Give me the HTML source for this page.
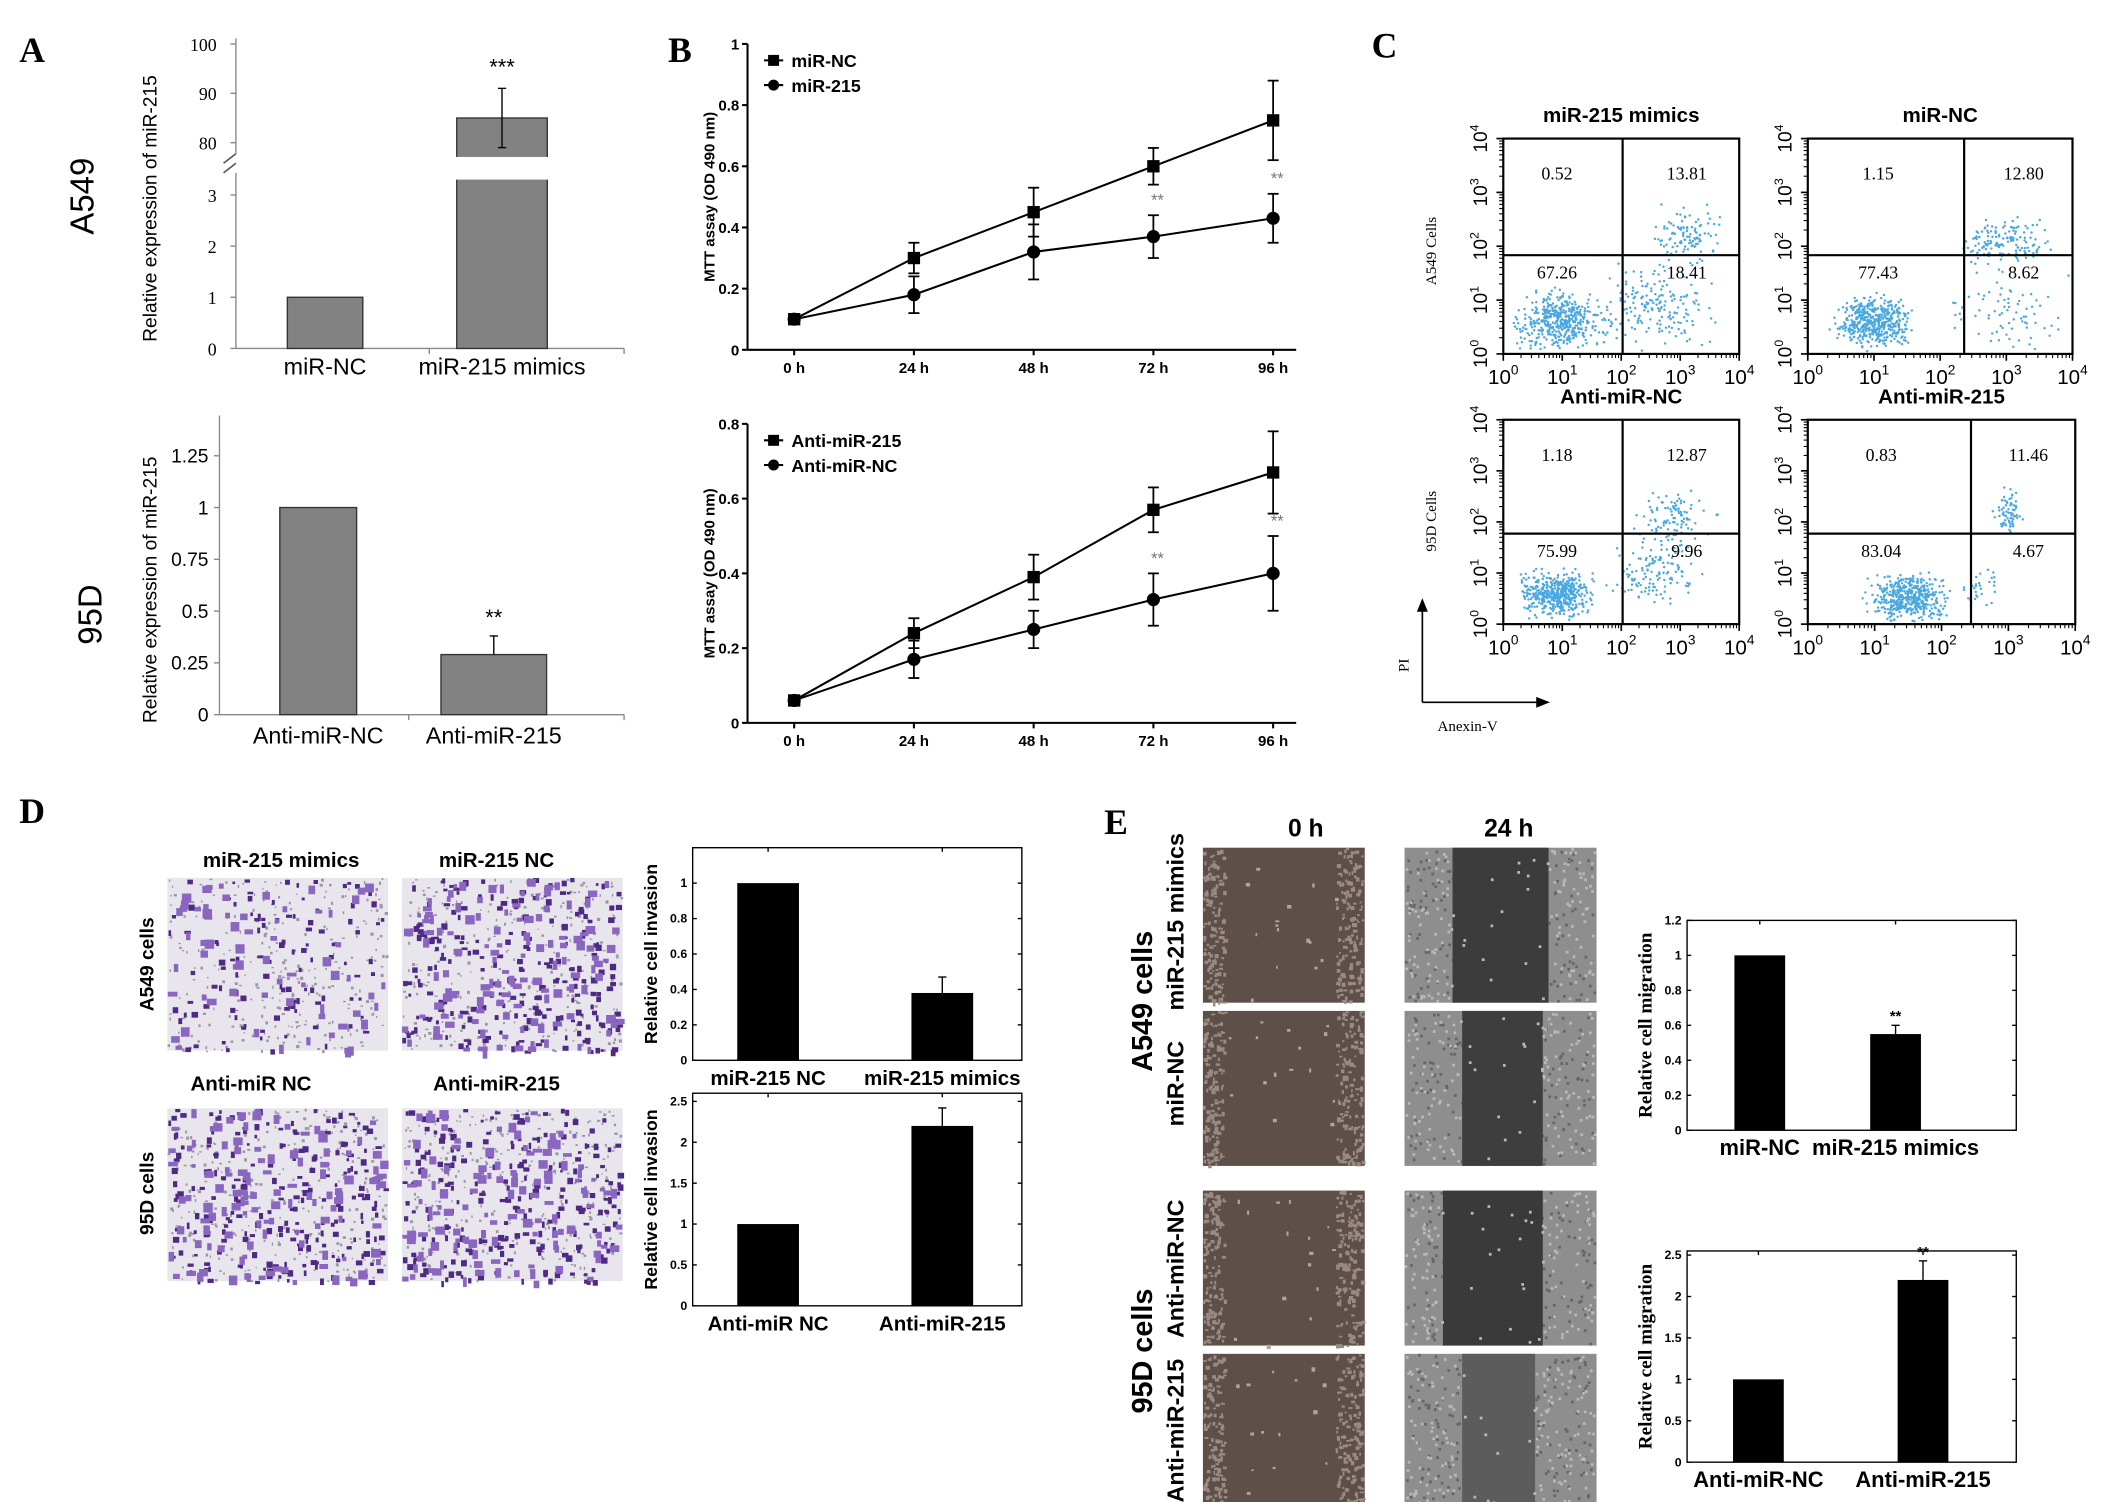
<!DOCTYPE html>
<html><head><meta charset="utf-8"><style>
html,body{margin:0;padding:0;background:#fff}
svg{display:block}
text{font-family:"Liberation Sans",sans-serif}
.serif{font-family:"Liberation Serif",serif}
</style></head><body>
<svg id="fig" width="2126" height="1502" viewBox="0 0 1550 1095" xmlns="http://www.w3.org/2000/svg">
<rect width="1550" height="1095" fill="#fff"/>
<text x="14" y="45" class="serif" font-size="26" font-weight="bold">A</text>
<text x="487" y="45" class="serif" font-size="26" font-weight="bold">B</text>
<text x="1000" y="42" class="serif" font-size="26" font-weight="bold">C</text>
<text x="14" y="600" class="serif" font-size="26" font-weight="bold">D</text>
<text x="805" y="608" class="serif" font-size="26" font-weight="bold">E</text>
<g id="root"></g>
</svg>
<script>
// ---------- Panel A data ----------
const aTopCats = ["miR-NC", "miR-215 mimics"];
const aTopVals = [1, 85];
const aTopErr = [0, 6];
const aTopTicks = ["0","1","2","3","80","90","100"];
const aBotCats = ["Anti-miR-NC", "Anti-miR-215"];
const aBotVals = [1, 0.29];
const aBotErr = [0, 0.09];
const aBotTicks = [0,0.25,0.5,0.75,1,1.25];
// ---------- Panel B data ----------
const bTimes = ["0 h","24 h","48 h","72 h","96 h"];
const bTopNC = [0.10,0.30,0.45,0.60,0.75];
const bTopNCErr = [0,0.05,0.08,0.06,0.13];
const bTop215 = [0.10,0.18,0.32,0.37,0.43];
const bTop215Err = [0,0.06,0.09,0.07,0.08];
const bTopTicks = [0,0.2,0.4,0.6,0.8,1];
const bBotAnti215 = [0.06,0.24,0.39,0.57,0.67];
const bBotAnti215Err = [0,0.04,0.06,0.06,0.11];
const bBotAntiNC = [0.06,0.17,0.25,0.33,0.40];
const bBotAntiNCErr = [0,0.05,0.05,0.07,0.10];
const bBotTicks = [0,0.2,0.4,0.6,0.8];
// ---------- Panel C data ----------
const cTitles = ["miR-215 mimics","miR-NC","Anti-miR-NC","Anti-miR-215"];
const cPercents = [["0.52","13.81","67.26","18.41"],["1.15","12.80","77.43","8.62"],["1.18","12.87","75.99","9.96"],["0.83","11.46","83.04","4.67"]];
// clusters: [log10 annexin, log10 PI, spread x, spread y, count]
const cClusters = [
 [[1.0,0.6,0.5,0.35,450],[2.6,0.9,0.6,0.5,180],[3.1,2.2,0.35,0.35,110]],
 [[1.0,0.6,0.35,0.3,480],[3.0,0.7,0.5,0.5,80],[3.0,2.1,0.45,0.3,150]],
 [[0.9,0.6,0.4,0.3,460],[2.6,1.0,0.5,0.4,130],[2.9,2.1,0.4,0.35,100]],
 [[1.5,0.5,0.35,0.3,480],[2.6,0.8,0.2,0.35,30],[3.0,2.2,0.15,0.3,70]]
];
// ---------- Panel D data ----------
const dTopCats = ["miR-215 NC","miR-215 mimics"];
const dTopVals = [1, 0.38];
const dTopErr = [0, 0.09];
const dTopTicks = [0,0.2,0.4,0.6,0.8,1];
const dBotCats = ["Anti-miR NC","Anti-miR-215"];
const dBotVals = [1, 2.2];
const dBotErr = [0, 0.22];
const dBotTicks = [0,0.5,1,1.5,2,2.5];
// ---------- Panel E data ----------
const eTopCats = ["miR-NC","miR-215 mimics"];
const eTopVals = [1, 0.55];
const eTopErr = [0, 0.05];
const eTopTicks = [0,0.2,0.4,0.6,0.8,1,1.2];
const eBotCats = ["Anti-miR-NC","Anti-miR-215"];
const eBotVals = [1, 2.2];
const eBotErr = [0, 0.23];
const eBotTicks = [0,0.5,1,1.5,2,2.5];

const NS="http://www.w3.org/2000/svg";
const root=document.getElementById('root');
function mk(tag,attrs,parent,txt){const e=document.createElementNS(NS,tag);for(const k in attrs)e.setAttribute(k,attrs[k]);if(txt!==undefined)e.textContent=txt;(parent||root).appendChild(e);return e;}
function line(x1,y1,x2,y2,w,c,p){return mk('line',{x1,y1,x2,y2,stroke:c||'#000','stroke-width':w||1},p);}
function rtext(x,y,s,size,opts,p){const o=opts||{};const t=mk('text',{x:0,y:0,'font-size':size,'text-anchor':'middle',transform:`translate(${x},${y}) rotate(-90)`,'font-weight':o.w||'normal',fill:o.fill||'#000'},p,s);if(o.serif)t.setAttribute('class','serif');return t;}
let seed=12345;function rnd(){seed=(seed*1103515245+12345)%2147483648;return seed/2147483648;}
function gauss(){return (rnd()+rnd()+rnd()-1.5)/1.5*1.7;}

// ===== Panel A top (broken axis) =====
(function(){
 const g=mk('g',{});
 const X0=172,XE=455;
 const ylow=v=>254-v*37.3;
 const yhigh=v=>104-(v-80)*3.6;
 const y=v=>v<=3.5?ylow(v):yhigh(v);
 line(X0,28,X0,112,1,'#888',g);line(X0,126,X0,254,1,'#888',g);line(X0,254,XE,254,1,'#888',g);
 line(163,119,172,112,1.2,'#555',g);line(163,126,172,119,1.2,'#555',g);
 aTopTicks.forEach(t=>{const v=+t;const yy=y(v);line(X0-4,yy,X0,yy,1,'#888',g);mk('text',{x:X0-14,y:yy+5,'font-size':13,'text-anchor':'end',class:'serif'},g,t);});
 line(313,254,313,258,1,'#888',g);line(XE,254,XE,258,1,'#888',g);
 const cx=[237,366],bw=[55,66];
 aTopCats.forEach((c,i)=>{
  const v=aTopVals[i];const b=mk('rect',{x:cx[i]-bw[i]/2,y:y(v),width:bw[i],height:254-y(v),fill:'#828282',stroke:'#333','stroke-width':1},g);
  
  if(v>3.5){mk('rect',{x:cx[i]-bw[i]/2-1,y:y(78.5)+5,width:bw[i]+2,height:ylow(3.3)-y(78.5)-5,fill:'#fff'},g);}
  if(aTopErr[i]>0){line(cx[i],y(v+aTopErr[i]),cx[i],y(v-aTopErr[i]),1,'#000',g);line(cx[i]-3,y(v+aTopErr[i]),cx[i]+3,y(v+aTopErr[i]),1,'#000',g);line(cx[i]-3,y(v-aTopErr[i]),cx[i]+3,y(v-aTopErr[i]),1,'#000',g);
   mk('text',{x:cx[i],y:y(v+aTopErr[i])-10,'font-size':16,'text-anchor':'middle'},g,'***');}
  mk('text',{x:cx[i],y:273,'font-size':17,'text-anchor':'middle'},g,c);
 });
 rtext(114,152,'Relative expression of miR-215',14,{},g);
 rtext(68,143,'A549',24,{},g);
})();
// ===== Panel A bottom =====
(function(){
 const g=mk('g',{});
 const X0=160,XE=455,y=v=>521-v*151;
 line(X0,303,X0,521,1,'#888',g);line(X0,521,XE,521,1,'#888',g);line(298,521,298,525,1,'#888',g);line(XE,521,XE,525,1,'#888',g);
 aBotTicks.forEach(t=>{line(X0-4,y(t),X0,y(t),1,'#888',g);mk('text',{x:X0-8,y:y(t)+5,'font-size':14,'text-anchor':'end'},g,String(t));});
 const cx=[232,360],bw=[56,77];
 aBotCats.forEach((c,i)=>{const v=aBotVals[i];const b=mk('rect',{x:cx[i]-bw[i]/2,y:y(v),width:bw[i],height:521-y(v),fill:'#828282',stroke:'#333'},g);
  
  if(aBotErr[i]>0){line(cx[i],y(v),cx[i],y(v+aBotErr[i]),1,'#000',g);line(cx[i]-3,y(v+aBotErr[i]),cx[i]+3,y(v+aBotErr[i]),1,'#000',g);mk('text',{x:cx[i],y:y(v+aBotErr[i])-8,'font-size':16,'text-anchor':'middle'},g,'**');}
  mk('text',{x:cx[i],y:542,'font-size':17,'text-anchor':'middle'},g,c);});
 rtext(114,430,'Relative expression of miR-215',14,{},g);
 rtext(74,448,'95D',24,{},g);
})();
// ===== Panel B line charts =====
function mtt(name,X0,XE,Y0,Ytop,vmax,ticks,s1,e1,s2,e2,legend,stars){
 const g=mk('g',{});
 const y=v=>Y0-(Y0-Ytop)*v/vmax;const xs=i=>579+i*87.3;
 line(X0,Ytop,X0,Y0,1.5,'#000',g);line(X0,Y0,XE,Y0,1.5,'#000',g);
 ticks.forEach(t=>{line(X0-4,y(t),X0,y(t),1.5,'#000',g);mk('text',{x:X0-6,y:y(t)+4,'font-size':11,'font-weight':'bold','text-anchor':'end'},g,String(t));});
 bTimes.forEach((t,i)=>{line(xs(i),Y0,xs(i),Y0+4,1.5,'#000',g);mk('text',{x:xs(i),y:Y0+17,'font-size':11,'font-weight':'bold','text-anchor':'middle'},g,t);});
 [[s1,e1,'sq'],[s2,e2,'ci']].forEach(([s,e,m],k)=>{
  mk('polyline',{points:s.map((v,i)=>xs(i)+','+y(v)).join(' '),fill:'none',stroke:'#000','stroke-width':1.5},g);
  s.forEach((v,i)=>{if(e[i]>0){line(xs(i),y(v-e[i]),xs(i),y(v+e[i]),1.3,'#000',g);[v-e[i],v+e[i]].forEach(w=>line(xs(i)-4,y(w),xs(i)+4,y(w),1.3,'#000',g));}
   const p=m==='sq'?mk('rect',{x:xs(i)-4.5,y:y(v)-4.5,width:9,height:9,fill:'#000'},g):mk('circle',{cx:xs(i),cy:y(v),r:4.8,fill:'#000'},g);
   });
 });
 stars.forEach(i=>mk('text',{x:xs(i)+3,y:y(s2[i]+e2[i])-7,'font-size':12,'text-anchor':'middle',fill:'#777'},g,'**'));
 legend.forEach((l,k)=>{const ly=Ytop+12+k*18;line(X0+12,ly,X0+26,ly,1.5,'#000',g);
  if(k===0)mk('rect',{x:X0+15,y:ly-4,width:8,height:8,fill:'#000'},g);else mk('circle',{cx:X0+19,cy:ly,r:4,fill:'#000'},g);
  mk('text',{x:X0+32,y:ly+5,'font-size':13,'font-weight':'bold'},g,l);});
 rtext(521,(Y0+Ytop)/2,'MTT assay (OD 490 nm)',11,{w:'bold'},g);
}
mtt('mtt-chart-a549',545,945,255,32,1,bTopTicks,bTopNC,bTopNCErr,bTop215,bTop215Err,['miR-NC','miR-215'],[3,4]);
mtt('mtt-chart-95d',545,945,527,309,0.8,bBotTicks,bBotAnti215,bBotAnti215Err,bBotAntiNC,bBotAntiNCErr,['Anti-miR-215','Anti-miR-NC'],[3,4]);

// ===== Panel C flow =====
const cBoxes=[[1096,101,1268,258,1183,186],[1318,101,1511,258,1432,186],[1096,306,1268,455,1183,389],[1318,306,1513,455,1437,389]];
cBoxes.forEach((b,k)=>{
 const [x0,y0,x1,y1,vx,hy]=b;const g=mk('g',{});
 const sx=v=>x0+(x1-x0)*v/4,sy=v=>y1-(y1-y0)*v/4;
 seed=777+k*31;
 cClusters[k].forEach(c=>{for(let n=0;n<c[4];n++){const px=sx(c[0]+gauss()*c[2]*1.2),py=sy(c[1]+gauss()*c[3]*1.2);if(px>x0+2&&px<x1-2&&py>y0+2&&py<y1-2)mk('circle',{cx:px,cy:py,r:0.9,fill:'#4aa8e0'},g);}});
 mk('rect',{x:x0,y:y0,width:x1-x0,height:y1-y0,fill:'none',stroke:'#000','stroke-width':1.6},g);
 line(vx,y0,vx,y1,1.6,'#000',g);line(x0,hy,x1,hy,1.6,'#000',g);
 mk('text',{x:(x0+x1)/2,y:y0-12,'font-size':15,'font-weight':'bold','text-anchor':'middle'},g,cTitles[k]);
 const p=cPercents[k];const q=[[x0+(vx-x0)*0.45,y0+30],[vx+(x1-vx)*0.55,y0+30],[x0+(vx-x0)*0.45,hy+17],[vx+(x1-vx)*0.55,hy+17]];
 q.forEach((pp,i)=>mk('text',{x:pp[0],y:pp[1],'font-size':13,'text-anchor':'middle',class:'serif'},g,p[i]));
 for(let i=0;i<=4;i++){
  const t=mk('text',{x:sx(i),y:y1+22,'font-size':15,'text-anchor':'middle'},g);
  mk('tspan',{},t,'10');mk('tspan',{dy:-7,'font-size':10},t,String(i));
  const r=mk('text',{x:0,y:0,'font-size':14,'text-anchor':'middle',transform:`translate(${x0-12},${sy(i)}) rotate(-90)`},g);
  mk('tspan',{},r,'10');mk('tspan',{dy:-6,'font-size':9},r,String(i));
  line(sx(i),y1,sx(i),y1+5,1.2,'#000',g);line(x0-5,sy(i),x0,sy(i),1.2,'#000',g);}
 for(let d=0;d<4;d++)for(let m=2;m<10;m++){const t=d+Math.log10(m);line(sx(t),y1,sx(t),y1+3,0.8,'#000',g);line(x0-3,sy(t),x0,sy(t),0.8,'#000',g);}
});
rtext(1047,183,'A549 Cells',11,{serif:true});rtext(1047,380,'95D Cells',11,{serif:true});
line(1037,512,1037,440,1.2);mk('polygon',{points:'1037,436 1033,446 1041,446'});line(1037,512,1125,512,1.2);mk('polygon',{points:'1130,512 1120,508 1120,516'});
rtext(1027,485,'PI',11,{serif:true});mk('text',{x:1048,y:533,'font-size':11,class:'serif'},root,'Anexin-V');

// ===== micrograph textures =====
function micro(x,y,w,h,bg,dots,name){
 const g=mk('g',{});
 mk('rect',{x,y,width:w,height:h,fill:bg},g);
 dots.forEach(d=>{for(let n=0;n<d.n;n++){const px=x+d.x0*w+rnd()*(d.x1-d.x0)*w,py=y+rnd()*h;if(px+d.s>x+w)continue;mk('rect',{x:px,y:py,width:d.s*(0.6+rnd()),height:d.s*(0.6+rnd()),fill:d.c},g);}});
}
seed=4242;
[[122,640,'invasion-a549-mimics',110],[293,640,'invasion-a549-nc',230],[122,808,'invasion-95d-anti-nc',220],[293,808,'invasion-95d-anti-215',240]].forEach(m=>{
 micro(m[0],m[1],161,126,'#e8e6ec',[{x0:0,x1:1,n:300,s:1.5,c:'#9a96a6'},{x0:0,x1:1,n:m[3],s:3,c:'#4e2a84'},{x0:0,x1:1,n:m[3]*0.6,s:4.5,c:'#8a66c0'}],m[2]);});
mk('text',{x:205,y:632,'font-size':15,'font-weight':'bold','text-anchor':'middle'},root,'miR-215 mimics');
mk('text',{x:362,y:632,'font-size':15,'font-weight':'bold','text-anchor':'middle'},root,'miR-215 NC');
mk('text',{x:183,y:795,'font-size':15,'font-weight':'bold','text-anchor':'middle'},root,'Anti-miR NC');
mk('text',{x:362,y:795,'font-size':15,'font-weight':'bold','text-anchor':'middle'},root,'Anti-miR-215');
rtext(112,703,'A549 cells',14,{w:'bold'});rtext(112,870,'95D cells',14,{w:'bold'});

[[877,618,'wound-a549-mimics-0h'],[877,737,'wound-a549-nc-0h'],[877,868,'wound-95d-anti-nc-0h'],[877,987,'wound-95d-anti-215-0h']].forEach(m=>{
 micro(m[0],m[1],118,113,'#5e4f48',[{x0:0,x1:0.13,n:140,s:2,c:'#9a8a82'},{x0:0.82,x1:1,n:170,s:2,c:'#9a8a82'},{x0:0.13,x1:0.82,n:15,s:2,c:'#b0a49e'}],m[2]);});
[[1024,618,0.25,0.75,'#3c3c3c','wound-a549-mimics-24h'],[1024,737,0.3,0.72,'#3e3e3e','wound-a549-nc-24h'],[1024,868,0.2,0.72,'#3a3a3a','wound-95d-anti-nc-24h'],[1024,987,0.3,0.68,'#5c5c5c','wound-95d-anti-215-24h']].forEach(m=>{
 const g=mk('g',{});
 mk('rect',{x:m[0],y:m[1],width:140,height:113,fill:'#8e8e8e'},g);
 for(let n=0;n<200;n++){const fx=rnd();if(fx>m[2]&&fx<m[3])continue;mk('rect',{x:m[0]+fx*138,y:m[1]+rnd()*111,width:2,height:2,fill:'#666'},g);}
 mk('rect',{x:m[0]+140*m[2],y:m[1],width:140*(m[3]-m[2]),height:113,fill:m[4]},g);
 for(let n=0;n<260;n++){const fx=rnd();const inGap=fx>m[2]&&fx<m[3];if(inGap&&rnd()>0.15)continue;mk('rect',{x:m[0]+fx*138,y:m[1]+rnd()*111,width:2,height:2,fill:'#b8b8b8'},g);}
});
mk('text',{x:952,y:610,'font-size':18,'font-weight':'bold','text-anchor':'middle'},root,'0 h');
mk('text',{x:1100,y:610,'font-size':18,'font-weight':'bold','text-anchor':'middle'},root,'24 h');
rtext(840,730,'A549 cells',21,{w:'bold'});rtext(840,985,'95D cells',21,{w:'bold'});
rtext(863,672,'miR-215 mimics',17,{w:'bold'});rtext(863,790,'miR-NC',17,{w:'bold'});
rtext(863,925,'Anti-miR-NC',17,{w:'bold'});rtext(863,1043,'Anti-miR-215',17,{w:'bold'});

// ===== black bar charts (D, E) =====
function blackBars(name,x0,y0,x1,y1,vmax,ticks,cats,vals,errs,cx,bw,ylabel,star,labSize){
 const g=mk('g',{});
 const y=v=>y1-(y1-y0)*v/vmax;
 mk('rect',{x:x0,y:y0,width:x1-x0,height:y1-y0,fill:'none',stroke:'#000','stroke-width':1},g);
 ticks.forEach(t=>{line(x0,y(t),x0+3,y(t),1,'#000',g);line(x1-3,y(t),x1,y(t),1,'#000',g);mk('text',{x:x0-4,y:y(t)+3,'font-size':9,'font-weight':'bold','text-anchor':'end'},g,String(t));});
 cats.forEach((c,i)=>{const v=vals[i];const b=mk('rect',{x:cx[i]-bw/2,y:y(v),width:bw,height:y1-y(v),fill:'#000'},g);
  
  line(cx[i],y0,cx[i],y0+3,1,'#000',g);
  if(errs[i]>0){line(cx[i],y(v),cx[i],y(v+errs[i]),1,'#000',g);line(cx[i]-3,y(v+errs[i]),cx[i]+3,y(v+errs[i]),1,'#000',g);if(star)mk('text',{x:cx[i],y:y(v+errs[i])-3,'font-size':11,'font-weight':'bold','text-anchor':'middle'},g,'**');}
  mk('text',{x:cx[i],y:y1+18,'font-size':labSize,'font-weight':'bold','text-anchor':'middle'},g,c);});
 rtext(x0-26,(y0+y1)/2,ylabel,labSize-2,{w:'bold',serif:ylabel.indexOf('migration')>=0},g);
}
blackBars('invasion-chart-a549',505,618,745,773,1.2,dTopTicks,dTopCats,dTopVals,dTopErr,[560,687],45,'Relative cell invasion',false,15);
blackBars('invasion-chart-95d',505,797,745,952,2.6,dBotTicks,dBotCats,dBotVals,dBotErr,[560,687],45,'Relative cell invasion',false,15);
blackBars('migration-chart-a549',1230,671,1470,824,1.2,eTopTicks,eTopCats,eTopVals,eTopErr,[1283,1382],37,'Relative cell migration',true,16);
blackBars('migration-chart-95d',1230,912,1470,1066,2.55,eBotTicks,eBotCats,eBotVals,eBotErr,[1282,1402],37,'Relative cell migration',true,16);
</script>
</body></html>
